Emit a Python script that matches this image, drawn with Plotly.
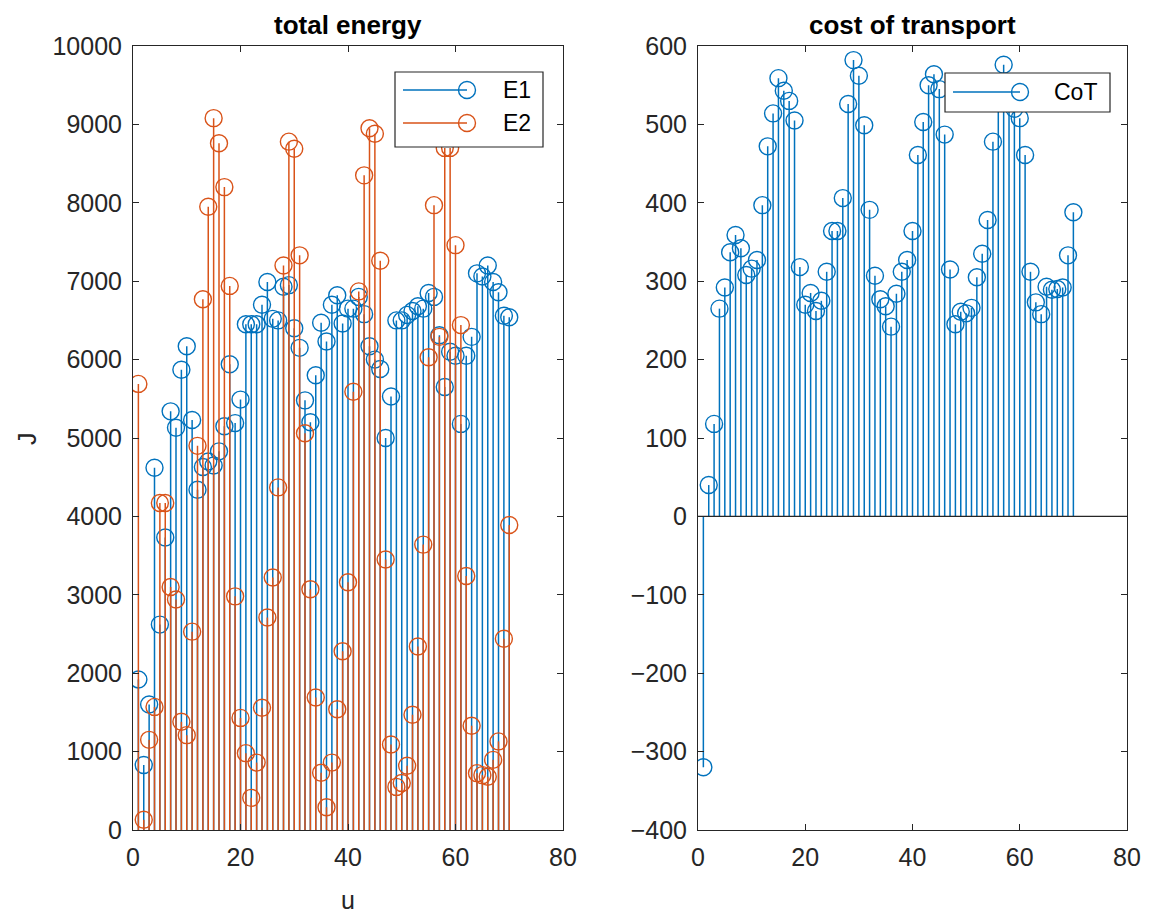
import plotly.graph_objects as go

# ---- data -------------------------------------------------------------
u = list(range(1, 71))

E1 = [1920, 830, 1600, 4620, 2620, 3730, 5340, 5130, 5870, 6170,
      5230, 4340, 4630, 4700, 4650, 4830, 5150, 5940, 5190, 5490,
      6450, 6450, 6450, 6700, 6990, 6520, 6500, 6930, 6950, 6400,
      6150, 5480, 5200, 5800, 6470, 6230, 6700, 6820, 6460, 6650,
      6650, 6800, 6580, 6170, 6000, 5880, 5000, 5530, 6500, 6500,
      6570, 6620, 6680, 6650, 6850, 6800, 6310, 5650, 6100, 6050,
      5180, 6050, 6290, 7100, 7060, 7200, 6990, 6860, 6560, 6540]

E2 = [5690, 130, 1150, 1570, 4170, 4170, 3100, 2940, 1380, 1210,
      2530, 4900, 6770, 7950, 9080, 8760, 8200, 6940, 2980, 1430,
      980, 410, 860, 1560, 2710, 3220, 4370, 7200, 8780, 8690,
      7330, 5060, 3070, 1690, 730, 290, 860, 1540, 2280, 3160,
      5590, 6870, 8350, 8950, 8880, 7260, 3450, 1090, 550, 600,
      820, 1470, 2340, 3640, 6030, 7970, 6290, 8700, 8700, 7460,
      6440, 3240, 1330, 725, 700, 680, 895, 1130, 2440, 3890]

CoT = [-320, 40, 118, 265, 292, 337, 359, 342, 308, 316,
       327, 397, 472, 514, 559, 543, 530, 505, 318, 270,
       285, 262, 275, 312, 364, 364, 406, 526, 582, 562,
       499, 391, 307, 277, 268, 242, 284, 312, 327, 364,
       461, 503, 550, 564, 545, 487, 315, 245, 261, 259,
       266, 305, 335, 378, 478, 540, 576, 545, 520, 508,
       461, 312, 273, 258, 293, 289, 290, 292, 333, 388]

BLUE = "#0072BD"
ORANGE = "#D95319"
AXC = "#262626"
FONT = "Liberation Sans, Arial, sans-serif"

W, H = 1150, 915


def px(x):
    return x / W


def py(y):
    return 1 - y / H


def stems(xs, ys):
    sx, sy = [], []
    for a, b in zip(xs, ys):
        sx += [a, a, None]
        sy += [0, b, None]
    return sx, sy


fig = go.Figure()


def add_stem(xs, ys, color, xa, ya):
    sx, sy = stems(xs, ys)
    fig.add_trace(go.Scatter(x=sx, y=sy, mode="lines", xaxis=xa, yaxis=ya,
                             line=dict(color=color, width=1.5),
                             hoverinfo="skip", showlegend=False))
    fig.add_trace(go.Scatter(x=xs, y=ys, mode="markers", xaxis=xa, yaxis=ya,
                             marker=dict(symbol="circle-open", size=17,
                                         color=color, line=dict(width=1.4)),
                             showlegend=False))


add_stem(u, E1, BLUE, "x", "y")
add_stem(u, E2, ORANGE, "x", "y")
add_stem(u, CoT, BLUE, "x2", "y2")

ax_common = dict(showgrid=False, zeroline=False, showline=True, linecolor=AXC,
                 linewidth=1, mirror="ticks", ticks="inside", ticklen=6,
                 tickcolor=AXC, automargin=False, tickformat="d",
                 ticklabelstandoff=5,
                 tickfont=dict(family=FONT, size=25, color=AXC))

ydom = [py(830), py(46)]
fig.update_layout(
    template="none",
    width=W, height=H,
    margin=dict(l=0, r=0, t=0, b=0, autoexpand=False),
    paper_bgcolor="white", plot_bgcolor="white",
    showlegend=False,
    xaxis=dict(domain=[px(133), px(563)], range=[0, 80], dtick=20, anchor="y",
               **ax_common),
    yaxis=dict(domain=ydom, range=[0, 10000], dtick=1000, anchor="x",
               **ax_common),
    xaxis2=dict(domain=[px(698), px(1127)], range=[0, 80], dtick=20,
                anchor="y2", **ax_common),
    yaxis2=dict(domain=ydom, range=[-400, 600], dtick=100, anchor="x2",
                **ax_common),
)

shapes = []
# baseline of the CoT stems
shapes.append(dict(type="line", xref="x2 domain", yref="y2", x0=0, x1=1,
                   y0=0, y1=0, line=dict(color=AXC, width=1.2), layer="above"))


def text(x, y, s, size, color="black", angle=0, xanchor="center"):
    fig.add_annotation(x=px(x), y=py(y), xref="paper", yref="paper",
                       text=s, showarrow=False, xanchor=xanchor,
                       yanchor="middle", textangle=angle,
                       font=dict(family=FONT, size=size, color=color))


def legend_box(x0, y0, x1, y1, items):
    shapes.append(dict(type="rect", xref="paper", yref="paper",
                       x0=px(x0), x1=px(x1), y0=py(y1), y1=py(y0),
                       line=dict(color=AXC, width=1.2), fillcolor="white",
                       layer="above"))
    for (label, color, yy, lx0, lx1, tx) in items:
        shapes.append(dict(type="line", xref="paper", yref="paper",
                           x0=px(lx0), x1=px(lx1), y0=py(yy), y1=py(yy),
                           line=dict(color=color, width=1.4), layer="above"))
        shapes.append(dict(type="circle", xref="paper", yref="paper",
                           xsizemode="pixel", ysizemode="pixel",
                           xanchor=px(lx1), yanchor=py(yy),
                           x0=-8.5, x1=8.5, y0=-8.5, y1=8.5,
                           line=dict(color=color, width=1.4),
                           fillcolor="rgba(0,0,0,0)", layer="above"))
        text(tx, yy, label, 23, xanchor="left")


legend_box(395, 72, 543, 147, [("E1", BLUE, 90, 403, 467, 501),
                               ("E2", ORANGE, 123, 403, 467, 501)])
legend_box(945, 73, 1110, 112, [("CoT", BLUE, 92, 953, 1020, 1052)])

fig.update_layout(shapes=shapes)

# titles and axis labels
text(348, 25, "<b>total energy</b>", 26)
text(912, 25, "<b>cost of transport</b>", 26)
text(348, 900, "u", 25, AXC)
text(27, 438, "J", 25, AXC, angle=-90)

fig.write_html("out.html")
